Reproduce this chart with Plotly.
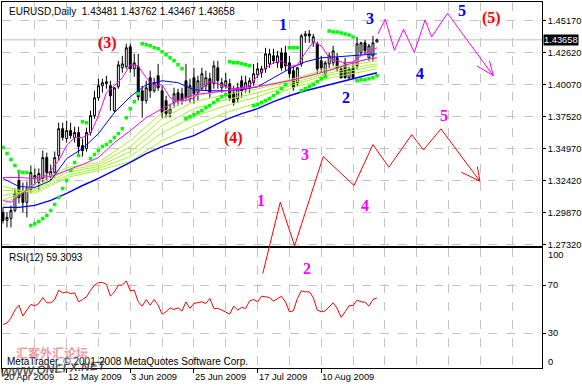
import plotly.graph_objects as go

# ---------------- data (bar index 0 = 20 Apr 2009, 94 = 28 Aug 2009) ----------------
BARS = list(range(95))
OPEN = [1.2987, 1.2923, 1.2939, 1.3003, 1.3242, 1.3163, 1.3067, 1.3170, 1.3258, 1.3226,
        1.3258, 1.3425, 1.3282, 1.3306, 1.3441, 1.3656, 1.3577, 1.3641, 1.3585, 1.3625,
        1.3521, 1.3497, 1.3625, 1.3760, 1.3903, 1.3999, 1.4015, 1.3999, 1.3800, 1.3991,
        1.4142, 1.4150, 1.4310, 1.4134, 1.4150, 1.3959, 1.3880, 1.4063, 1.3959, 1.4079,
        1.3959, 1.3880, 1.3776, 1.3864, 1.3943, 1.3935, 1.4039, 1.3895, 1.4063, 1.3943,
        1.3975, 1.3999, 1.4055, 1.4015, 1.4142, 1.3983, 1.3999, 1.4015, 1.3943, 1.3895,
        1.4039, 1.3975, 1.3991, 1.4023, 1.4087, 1.4103, 1.4134, 1.4174, 1.4238, 1.4182,
        1.4262, 1.4262, 1.4182, 1.4119, 1.4023, 1.4174, 1.4397, 1.4413, 1.4342, 1.4334,
        1.4198, 1.4095, 1.4174, 1.4182, 1.4222, 1.4134, 1.4182, 1.4063, 1.4142, 1.4158,
        1.4262, 1.4342, 1.4222, 1.4238, 1.43481]
HIGH = [1.3027, 1.2987, 1.3043, 1.3178, 1.3306, 1.3226, 1.3234, 1.3362, 1.3338, 1.3338,
        1.3481, 1.3465, 1.3370, 1.3473, 1.3704, 1.3704, 1.3720, 1.3704, 1.3672, 1.3672,
        1.3577, 1.3664, 1.3800, 1.3959, 1.4055, 1.4055, 1.4079, 1.4039, 1.3975, 1.4198,
        1.4238, 1.4334, 1.4334, 1.4254, 1.4254, 1.3999, 1.4039, 1.4119, 1.4063, 1.4174,
        1.3999, 1.3919, 1.3856, 1.3983, 1.3975, 1.3983, 1.4174, 1.4055, 1.4142, 1.4079,
        1.4142, 1.4119, 1.4103, 1.4198, 1.4198, 1.4063, 1.4103, 1.4055, 1.3999, 1.4023,
        1.4079, 1.4079, 1.4063, 1.4174, 1.4182, 1.4158, 1.4302, 1.4294, 1.4294, 1.4278,
        1.4302, 1.4318, 1.4238, 1.4150, 1.4150, 1.4413, 1.4437, 1.4445, 1.4413, 1.4350,
        1.4238, 1.4198, 1.4262, 1.4318, 1.4262, 1.4158, 1.4222, 1.4150, 1.4182, 1.4389,
        1.4350, 1.4366, 1.4334, 1.4397, 1.43762]
LOW = [1.2899, 1.2867, 1.2867, 1.2987, 1.3059, 1.2987, 1.2947, 1.3139, 1.3210, 1.3163,
       1.3226, 1.3242, 1.3242, 1.3266, 1.3402, 1.3561, 1.3545, 1.3577, 1.3545, 1.3457,
       1.3433, 1.3473, 1.3601, 1.3736, 1.3880, 1.3943, 1.3975, 1.3800, 1.3784, 1.3975,
       1.4103, 1.4134, 1.4103, 1.4071, 1.3880, 1.3744, 1.3856, 1.3903, 1.3943, 1.3959,
       1.3744, 1.3744, 1.3744, 1.3824, 1.3840, 1.3848, 1.3880, 1.3864, 1.3856, 1.3880,
       1.3959, 1.3959, 1.3903, 1.3975, 1.3975, 1.3943, 1.3975, 1.3880, 1.3840, 1.3864,
       1.3903, 1.3943, 1.3943, 1.3999, 1.4063, 1.4063, 1.4103, 1.4142, 1.4174, 1.4142,
       1.4119, 1.4119, 1.4063, 1.3959, 1.3999, 1.4150, 1.4342, 1.4342, 1.4310, 1.4095,
       1.4103, 1.4063, 1.4142, 1.4158, 1.4111, 1.4055, 1.4055, 1.4047, 1.4055, 1.4134,
       1.4238, 1.4246, 1.4198, 1.4198, 1.43467]
CLOSE = [1.2923, 1.2947, 1.3003, 1.3139, 1.3107, 1.3067, 1.3178, 1.3306, 1.3282, 1.3298,
         1.3425, 1.3306, 1.3314, 1.3425, 1.3656, 1.3585, 1.3641, 1.3601, 1.3625, 1.3513,
         1.3481, 1.3625, 1.3760, 1.3903, 1.3999, 1.4023, 1.4031, 1.3919, 1.3983, 1.4166,
         1.4174, 1.4302, 1.4134, 1.4182, 1.3911, 1.3880, 1.3983, 1.3959, 1.4023, 1.3983,
         1.3784, 1.3776, 1.3816, 1.3935, 1.3880, 1.3880, 1.3903, 1.3999, 1.3935, 1.4039,
         1.4095, 1.4063, 1.3943, 1.4158, 1.4039, 1.4023, 1.4039, 1.3903, 1.3864, 1.3983,
         1.3959, 1.4023, 1.4039, 1.4095, 1.4134, 1.4134, 1.4254, 1.4254, 1.4198, 1.4238,
         1.4142, 1.4158, 1.4095, 1.3983, 1.4142, 1.4397, 1.4413, 1.4397, 1.4390, 1.4134,
         1.4142, 1.4182, 1.4238, 1.4278, 1.4134, 1.4063, 1.4063, 1.4134, 1.4063, 1.4334,
         1.4342, 1.4278, 1.4318, 1.4342, 1.43658]

MA_IDX2 = list(range(0, 95, 2))
MA_IDX4 = list(range(0, 93, 4)) + [94]
MA_IDX8 = list(range(0, 89, 8)) + [94]
MAGENTA_FAST = [1.3083, 1.3067, 1.3115, 1.3163, 1.3218, 1.3266, 1.3322, 1.3402, 1.3521, 1.3585,
                1.3585, 1.3617, 1.3760, 1.3943, 1.3999, 1.4063, 1.4166, 1.4158, 1.4063, 1.3999,
                1.4007, 1.3903, 1.3880, 1.3880, 1.3903, 1.3975, 1.4031, 1.4015, 1.3991, 1.3975,
                1.3983, 1.3999, 1.4079, 1.4142, 1.4182, 1.4198, 1.4150, 1.4166, 1.4262, 1.4350,
                1.4318, 1.4222, 1.4198, 1.4182, 1.4190, 1.4238, 1.4278, 1.4302]
MAGENTA_SLOW = [1.3266, 1.3266, 1.3258, 1.3274, 1.3322, 1.3370, 1.3425, 1.3545, 1.3640, 1.3744,
                1.3816, 1.3880, 1.3927, 1.3943, 1.3959, 1.3975, 1.3991, 1.4015, 1.4039, 1.4071,
                1.4103, 1.4142, 1.4182, 1.4214, 1.4222]
BLUE_FAST = [1.3258, 1.3194, 1.3186, 1.3242, 1.3417, 1.3497, 1.3617, 1.3784, 1.3911, 1.4007,
             1.4039, 1.4023, 1.3967, 1.3959, 1.3959, 1.3967, 1.3991, 1.4063, 1.4134, 1.4190,
             1.4222, 1.4230, 1.4238, 1.4246, 1.4254]
BLUE_SLOW = [1.3027, 1.3027, 1.3043, 1.3083, 1.3139, 1.3202, 1.3258, 1.3322, 1.3386, 1.3457,
             1.3513, 1.3561, 1.3601, 1.3664, 1.3728, 1.3776, 1.3816, 1.3872, 1.3919, 1.3959,
             1.3991, 1.4023, 1.4055, 1.4087, 1.4103]
GREEN_1 = [1.3043, 1.3218, 1.3345, 1.3386, 1.3561, 1.3784, 1.3919, 1.3959, 1.3991, 1.4047, 1.4119, 1.4190, 1.4222]
GREEN_2 = [1.3083, 1.3194, 1.3322, 1.3370, 1.3513, 1.3736, 1.3872, 1.3927, 1.3975, 1.4031, 1.4103, 1.4166, 1.4198]
GREEN_3 = [1.3123, 1.3170, 1.3306, 1.3354, 1.3473, 1.3680, 1.3816, 1.3887, 1.3943, 1.4015, 1.4087, 1.4142, 1.4174]
GREEN_4 = [1.3163, 1.3155, 1.3282, 1.3338, 1.3433, 1.3624, 1.3752, 1.3840, 1.3911, 1.3999, 1.4071, 1.4119, 1.4158]
GREEN_5 = [1.3194, 1.3139, 1.3266, 1.3322, 1.3394, 1.3561, 1.3680, 1.3784, 1.3864, 1.3975, 1.4047, 1.4095, 1.4134]

SAR = [1.3505, 1.3457, 1.3409, 1.3362, 1.3314, 1.3306, 1.3306,
       1.2883, 1.2899, 1.2915, 1.2939, 1.2963, 1.3003, 1.3051, 1.3107, 1.3178, 1.3242, 1.3322, 1.3386, 1.3441,
       1.3712, 1.3704,
       1.3417, 1.3449, 1.3481, 1.3513, 1.3529, 1.3553, 1.3585, 1.3617, 1.3656, 1.3744, 1.3816, 1.3872, 1.3935,
       1.4334, 1.4326, 1.4318, 1.4302, 1.4294, 1.4270, 1.4246, 1.4222, 1.4198, 1.4166, 1.4134,
       1.3736, 1.3752, 1.3768, 1.3784, 1.3800, 1.3824, 1.3840, 1.3864, 1.3887, 1.3911, 1.3927,
       1.4190, 1.4182, 1.4182, 1.4174, 1.4166, 1.4158,
       1.3840, 1.3848, 1.3864, 1.3880, 1.3895, 1.3919, 1.3943, 1.3975, 1.4007,
       1.4302, 1.4302, 1.4302,
       1.3959, 1.3975, 1.3991, 1.4007, 1.4031, 1.4055, 1.4071,
       1.4437, 1.4429, 1.4429, 1.4421, 1.4413, 1.4405, 1.4389,
       1.4039, 1.4047, 1.4047, 1.4055, 1.4063, 1.4079]

RSI = [37.2, 38.3, 42.5, 49.2, 53.3, 44.2, 49.2, 53.9, 52.8, 54.7,
       59.7, 55.3, 55.3, 58.0, 65.8, 63.6, 64.4, 63.0, 63.6, 56.1,
       58.0, 60.3, 65.8, 70.0, 72.2, 72.2, 70.8, 60.8, 64.4, 70.0,
       70.0, 73.6, 65.3, 65.8, 56.1, 52.5, 58.0, 53.3, 58.0, 53.3,
       45.8, 47.8, 51.1, 49.7, 51.1, 48.3, 56.1, 50.6, 54.7, 55.3,
       56.1, 54.7, 58.9, 50.6, 50.6, 49.2, 47.8, 45.8, 52.5, 49.2,
       51.4, 50.6, 56.9, 58.0, 56.1, 60.8, 60.3, 59.7, 56.7, 58.9,
       60.8, 56.1, 47.8, 48.6, 58.9, 65.3, 64.4, 64.4, 59.7, 49.2,
       47.8, 48.6, 51.9, 55.3, 50.6, 43.1, 47.8, 52.8, 53.1, 57.5,
       56.1, 55.8, 52.5, 58.0, 59.3093]

# hand-drawn wave projections (bar index, price)
MAGENTA_WAVE_BAR = [94.25, 96.1, 98.4, 100.7, 103.4, 106.1, 107.75, 111.75, 123.25]
MAGENTA_WAVE_PRICE = [1.4413, 1.4530, 1.4283, 1.4451, 1.4264, 1.4525, 1.4389, 1.4578, 1.4079]
MAGENTA_HEAD_BAR = [119.1, 123.25, 122.3]
MAGENTA_HEAD_PRICE = [1.4158, 1.4079, 1.4198]
RED_WAVE_BAR = [65.3, 69.7, 73.3, 80.5, 88.25, 93.0, 97.0, 102.75, 105.7, 110.1, 119.9]
RED_WAVE_PRICE = [1.2498, 1.3069, 1.2720, 1.3433, 1.3202, 1.3529, 1.3348, 1.3608, 1.3486, 1.3654, 1.3236]
RED_HEAD_BAR = [115.25, 119.9, 119.25]
RED_HEAD_PRICE = [1.3308, 1.3236, 1.3353]

# wave labels: (text, bar, price, colour)
WAVE_LABELS = [
    ("1", 70.5, 1.4485, "#0000ff"), ("3", 92.25, 1.4533, "#0000ff"), ("5", 115.5, 1.4597, "#0000ff"),
    ("2", 86.25, 1.3903, "#0000ff"), ("4", 104.75, 1.4095, "#0000ff"),
    ("(3)", 26.25, 1.4342, "#ff0000"), ("(4)", 58.0, 1.3584, "#ff0000"), ("(5)", 122.75, 1.4541, "#ff0000"),
    ("1", 64.75, 1.3082, "#ff00ff"), ("3", 76.0, 1.3449, "#ff00ff"), ("4", 91.0, 1.3043, "#ff00ff"),
    ("5", 110.75, 1.3760, "#ff00ff"), ("2", 76.5, 1.2540, "#ff00ff"),
]

PRICE_TICKS = [1.45170, 1.42620, 1.40070, 1.37520, 1.34970, 1.32420, 1.29870, 1.27320]
RSI_LABELS = ["100", "70", "30", "0"]
RSI_GRID = [70, 30]
DATE_BARS = [0, 16, 32, 48, 64, 80]
DATE_LABELS = ["20 Apr 2009", "12 May 2009", "3 Jun 2009", "25 Jun 2009", "17 Jul 2009", "10 Aug 2009"]
GRID_BARS = list(range(8, 136, 8))

# ---------------- layout constants ----------------
W, H = 582, 386
ML, MR, MT, MB = 2, 37, 1, 18
PH = H - MT - MB
PW = W - ML - MR
MAIN_LOW = (H - MB - 246) / PH
RSI_HIGH = (H - MB - 248) / PH
X_RANGE = [-0.25, 135.5]
PRICE_RANGE = [1.2716, 1.4668]
Y3_LOW = PRICE_RANGE[1] - (PRICE_RANGE[1] - PRICE_RANGE[0]) / (1 - MAIN_LOW)
GRID = "#c4c4c4"
FONT = "Liberation Sans, Arial, sans-serif"
AXF = 9.3

fig = go.Figure()

fig.add_trace(go.Candlestick(
    x=BARS, open=OPEN, high=HIGH, low=LOW, close=CLOSE,
    increasing=dict(line=dict(color="black", width=1), fillcolor="white"),
    decreasing=dict(line=dict(color="black", width=1), fillcolor="black"),
    whiskerwidth=0, hoverinfo="skip", xaxis="x", yaxis="y"))

for vals in (GREEN_5, GREEN_4, GREEN_3, GREEN_2, GREEN_1):
    fig.add_trace(go.Scatter(x=MA_IDX8, y=vals, mode="lines",
                             line=dict(color="#a8f52a", width=1), hoverinfo="skip"))
fig.add_trace(go.Scatter(x=MA_IDX4, y=BLUE_SLOW, mode="lines", line=dict(color="#0000ff", width=1.4), hoverinfo="skip"))
fig.add_trace(go.Scatter(x=MA_IDX4, y=BLUE_FAST, mode="lines", line=dict(color="#0000ff", width=1), hoverinfo="skip"))
fig.add_trace(go.Scatter(x=MA_IDX4, y=MAGENTA_SLOW, mode="lines", line=dict(color="#ff00ff", width=1), hoverinfo="skip"))
fig.add_trace(go.Scatter(x=MA_IDX2, y=MAGENTA_FAST, mode="lines", line=dict(color="#ff00ff", width=1), hoverinfo="skip"))
fig.add_trace(go.Scatter(x=BARS, y=SAR, mode="markers",
                         marker=dict(symbol="square", size=3.5, color="#00ff00", line=dict(width=0)),
                         hoverinfo="skip"))

fig.add_trace(go.Scatter(x=BARS, y=RSI, mode="lines", line=dict(color="#ff0000", width=1),
                         xaxis="x2", yaxis="y2", hoverinfo="skip"))

for bx, py, col in ((MAGENTA_WAVE_BAR, MAGENTA_WAVE_PRICE, "#ff00ff"),
                    (MAGENTA_HEAD_BAR, MAGENTA_HEAD_PRICE, "#ff00ff"),
                    (RED_WAVE_BAR, RED_WAVE_PRICE, "#ff0000"),
                    (RED_HEAD_BAR, RED_HEAD_PRICE, "#ff0000")):
    fig.add_trace(go.Scatter(x=bx, y=py, mode="lines", line=dict(color=col, width=1),
                             xaxis="x3", yaxis="y3", hoverinfo="skip"))

ann = []
for txt, b, p, col in WAVE_LABELS:
    ann.append(dict(x=b, y=p, xref="x3", yref="y3", text="<b>%s</b>" % txt, showarrow=False,
                    font=dict(family="Liberation Serif, Times New Roman, serif", size=16, color=col)))
for b, lab in zip(DATE_BARS, DATE_LABELS):
    ann.append(dict(x=b, y=0, xref="x2", yref="paper", text=lab, showarrow=False,
                    xanchor="left", yanchor="top", yshift=-2, xshift=-1,
                    font=dict(family=FONT, size=AXF, color="black")))
ann.append(dict(x=(7 - ML) / PW, y=(H - MB - 11) / PH, xref="paper", yref="paper",
                text="EURUSD,Daily  %.5f %.5f %.5f %.5f" % (OPEN[-1], HIGH[-1], LOW[-1], CLOSE[-1]),
                showarrow=False, xanchor="left", yanchor="middle", font=dict(family=FONT, size=10, color="black")))
ann.append(dict(x=(7 - ML) / PW, y=(H - MB - 257) / PH, xref="paper", yref="paper",
                text="RSI(12) %.4f" % RSI[-1], showarrow=False, xanchor="left", yanchor="middle",
                font=dict(family=FONT, size=10, color="black")))
ann.append(dict(x=1, y=CLOSE[-1], xref="paper", yref="y", text="%.5f" % CLOSE[-1], showarrow=False,
                xanchor="left", yanchor="middle", xshift=1, bgcolor="black", borderpad=0,
                font=dict(family=FONT, size=AXF, color="white")))
ann.append(dict(x=1, y=95, xref="paper", yref="y2", text=RSI_LABELS[0], showarrow=False,
                xanchor="left", yanchor="middle", xshift=4, font=dict(family=FONT, size=AXF, color="black")))
ann.append(dict(x=1, y=5.8, xref="paper", yref="y2", text=RSI_LABELS[3], showarrow=False,
                xanchor="left", yanchor="middle", xshift=4, font=dict(family=FONT, size=AXF, color="black")))
ann.append(dict(x=(5 - ML) / PW, y=(H - MB - 361) / PH, xref="paper", yref="paper",
                text="MetaTrader, © 2001-2008 MetaQuotes Software Corp.", showarrow=False,
                xanchor="left", yanchor="middle", font=dict(family=FONT, size=10, color="black")))
ann.append(dict(x=(52 - ML) / PW, y=(H - MB - 352) / PH, xref="paper", yref="paper",
                text="<b>汇客外汇论坛</b>", showarrow=False, xanchor="center", yanchor="middle",
                font=dict(family="Noto Sans CJK SC", size=12, color="rgba(235,120,130,0.75)")))
ann.append(dict(x=(54 - ML) / PW, y=(H - MB - 369) / PH, xref="paper", yref="paper",
                text="<b><i>WWW.ONEFX.NET</i></b>", showarrow=False, xanchor="center", yanchor="middle",
                textangle=-4, font=dict(family=FONT, size=12, color="rgba(60,60,60,0.85)")))

axis_common = dict(showline=True, mirror=True, linecolor="black", linewidth=1, zeroline=False)
xminor = dict(tickvals=GRID_BARS, showgrid=True, gridcolor=GRID, griddash="dash", gridwidth=1, ticklen=0)

fig.update_layout(
    width=W, height=H, margin=dict(l=ML, r=MR, t=MT, b=MB),
    paper_bgcolor="white", plot_bgcolor="rgba(0,0,0,0)", showlegend=False,
    font=dict(family=FONT, size=AXF, color="black"),
    xaxis=dict(domain=[0, 1], range=X_RANGE, anchor="y", showticklabels=False, ticks="",
               showgrid=False, minor=xminor, rangeslider=dict(visible=False), **axis_common),
    yaxis=dict(domain=[MAIN_LOW, 1], range=PRICE_RANGE, anchor="x", side="right",
               tickvals=PRICE_TICKS, tickformat=".5f", ticks="outside", ticklen=3, tickcolor="black",
               showgrid=True, gridcolor=GRID, griddash="dash", **axis_common),
    xaxis2=dict(domain=[0, 1], range=X_RANGE, anchor="y2", tickvals=DATE_BARS,
                ticktext=[""] * len(DATE_BARS), ticks="outside", ticklen=4, tickcolor="black",
                showgrid=False, minor=xminor, **axis_common),
    yaxis2=dict(domain=[0, RSI_HIGH], range=[0.8, 100.8], anchor="x2", side="right",
                tickvals=RSI_GRID, ticktext=RSI_LABELS[1:3], ticks="outside", ticklen=3, tickcolor="black",
                showgrid=True, gridcolor=GRID, griddash="dash", **axis_common),
    xaxis3=dict(domain=[0, 1], range=X_RANGE, anchor="y3", visible=False),
    yaxis3=dict(domain=[0, 1], range=[Y3_LOW, PRICE_RANGE[1]], anchor="x3", visible=False),
    annotations=ann,
    shapes=[dict(type="line", xref="paper", x0=0, x1=1, yref="y", y0=CLOSE[-1], y1=CLOSE[-1],
                 line=dict(color="#c0c0c0", width=1), layer="below")],
)

fig.write_html("out.html", config={"displayModeBar": False, "staticPlot": True},
               post_script="document.body.style.margin='0';document.body.style.overflow='hidden';")
